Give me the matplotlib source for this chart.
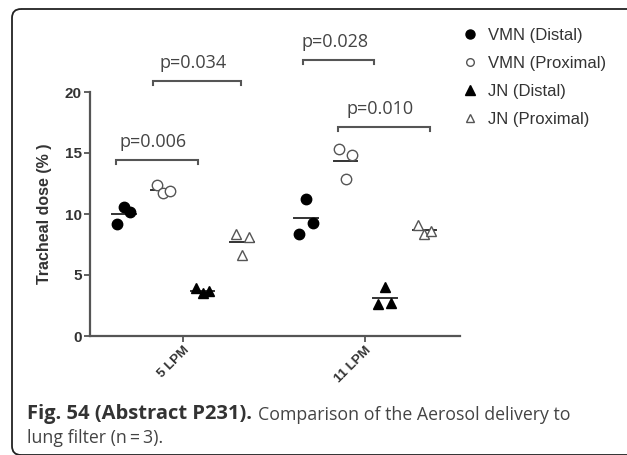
import numpy as np
import matplotlib
matplotlib.use("Agg")
import matplotlib.pyplot as plt
import matplotlib.transforms as mtrans
from matplotlib.patches import FancyBboxPatch
from matplotlib.lines import Line2D

# ---- data ----
categories = ["5 LPM", "11 LPM"]
series_names = ["VMN (Distal)", "VMN (Proximal)", "JN (Distal)", "JN (Proximal)"]
vmn_distal = [[9.2, 10.6, 10.2], [8.4, 11.2, 9.3]]
vmn_proximal = [[12.4, 11.7, 11.9], [15.3, 12.9, 14.8]]
jn_distal = [[3.9, 3.5, 3.7], [2.6, 4.0, 2.7]]
jn_proximal = [[8.4, 6.6, 8.1], [9.1, 8.4, 8.6]]
y_ticks = [0, 5, 10, 15, 20]
p_labels = ["p=0.006", "p=0.034", "p=0.028", "p=0.010"]
p_heights = [14.4, 20.9, 22.6, 17.1]
p_pairs = [(0, 0, 2), (0, 1, 3), (1, 0, 2), (1, 1, 3)]  # (category, series a, series b)

# ---- styling ----
W, H = 627, 455
fig = plt.figure(figsize=(W / 100, H / 100), dpi=100)
fig.patch.set_facecolor("white")

bg = fig.add_axes([0, 0, 1, 1])
bg.set_xlim(0, W)
bg.set_ylim(H, 0)
bg.axis("off")
bg.add_patch(FancyBboxPatch((12, 9), 700, 446, boxstyle="round,pad=0,rounding_size=9",
                            fill=False, ec="#222222", lw=1.3))

ax = fig.add_axes([90 / W, 1 - 336 / H, 370 / W, 244 / H])
ax.set_facecolor("none")
ax.set_xlim(-0.51, 1.52)
ax.set_ylim(0, 20)

offsets = [-0.325, -0.108, 0.108, 0.325]
jitter = [-0.036, 0.0, 0.036]
all_series = [vmn_distal, vmn_proximal, jn_distal, jn_proximal]
markers = ["o", "o", "^", "^"]
fills = ["black", "white", "black", "white"]
edges = ["black", "#555555", "black", "#555555"]
sizes = [7.5, 7.5, 7.5, 7.5]

for si, ser in enumerate(all_series):
    for ci in range(len(categories)):
        xs = [ci + offsets[si] + j for j in jitter]
        ax.plot(xs, ser[ci], linestyle="none", marker=markers[si], ms=sizes[si],
                mfc=fills[si], mec=edges[si], mew=1.0, clip_on=False, zorder=3)
        m = np.mean(ser[ci])
        cx = ci + offsets[si]
        ax.plot([cx - 0.065, cx + 0.065], [m, m], color="#333333", lw=1.4, zorder=2)

# significance brackets
adj = [(-0.044, -0.028), (-0.055, -0.006), (-0.016, -0.06), (-0.04, 0.03)]
for (ci, a, b), h, lab, (da, db) in zip(p_pairs, p_heights, p_labels, adj):
    x1 = ci + offsets[a] + da
    x2 = ci + offsets[b] + db
    ax.plot([x1, x1, x2, x2], [h - 0.3, h, h, h - 0.3], color="#555555", lw=1.5,
            clip_on=False, solid_joinstyle="miter")
    ax.text((x1 + x2) / 2 - 0.02, h + 0.75, lab, ha="center", va="bottom",
            fontsize=13, family="Open Sans", color="#444444", clip_on=False)

for s in ["top", "right"]:
    ax.spines[s].set_visible(False)
for s in ["left", "bottom"]:
    ax.spines[s].set_color("#555555")
    ax.spines[s].set_linewidth(1.6)
ax.spines["left"].set_bounds(0, 20)
ax.set_yticks(y_ticks)
ax.set_yticklabels([str(t) for t in y_ticks], fontsize=11, fontweight="bold",
                   family="Liberation Sans", color="#333333")
ax.set_xticks(range(len(categories)))
ax.set_xticklabels(categories, rotation=45, ha="right", rotation_mode="anchor",
                   fontsize=9.5, fontweight="bold", family="Liberation Sans", color="#333333")
ax.tick_params(axis="both", length=4, width=1.3, color="#555555", pad=2)
ax.set_ylabel("Tracheal dose (% )", fontsize=11.5, fontweight="bold",
              family="Liberation Sans", color="#333333", labelpad=9)

# legend
handles = [Line2D([], [], linestyle="none", marker=markers[i], ms=6.5 if i % 2 == 0 else 5.5,
                  mfc=fills[i], mec=edges[i], mew=1.0) for i in range(4)]
leg = fig.legend(handles, series_names, loc="upper left",
                 bbox_to_anchor=(461.7 / W, 1 - 28 / H),
                 frameon=False, handlelength=1.0, handletextpad=0.58, labelspacing=0.78,
                 borderpad=0, borderaxespad=0,
                 prop={"family": "Liberation Sans", "size": 12})
for t in leg.get_texts():
    t.set_color("#333333")

# caption
t1 = bg.text(27, 414.5, "Fig. 54 (Abstract P231).", fontsize=14.5, fontweight="bold",
             family="Open Sans", color="#333333", va="center", ha="left")
fig.canvas.draw()
bb = t1.get_window_extent()
bg.text(bb.x1 + 6, 414.5, "Comparison of the Aerosol delivery to", fontsize=12.8,
        family="Open Sans", color="#444444", va="center", ha="left",
        transform=mtrans.blended_transform_factory(mtrans.IdentityTransform(), bg.transData))
bg.text(27, 438, "lung filter (n\u2009=\u20093).", fontsize=12.8, family="Open Sans",
        color="#444444", va="center", ha="left")

fig.savefig("out.png", dpi=100)
